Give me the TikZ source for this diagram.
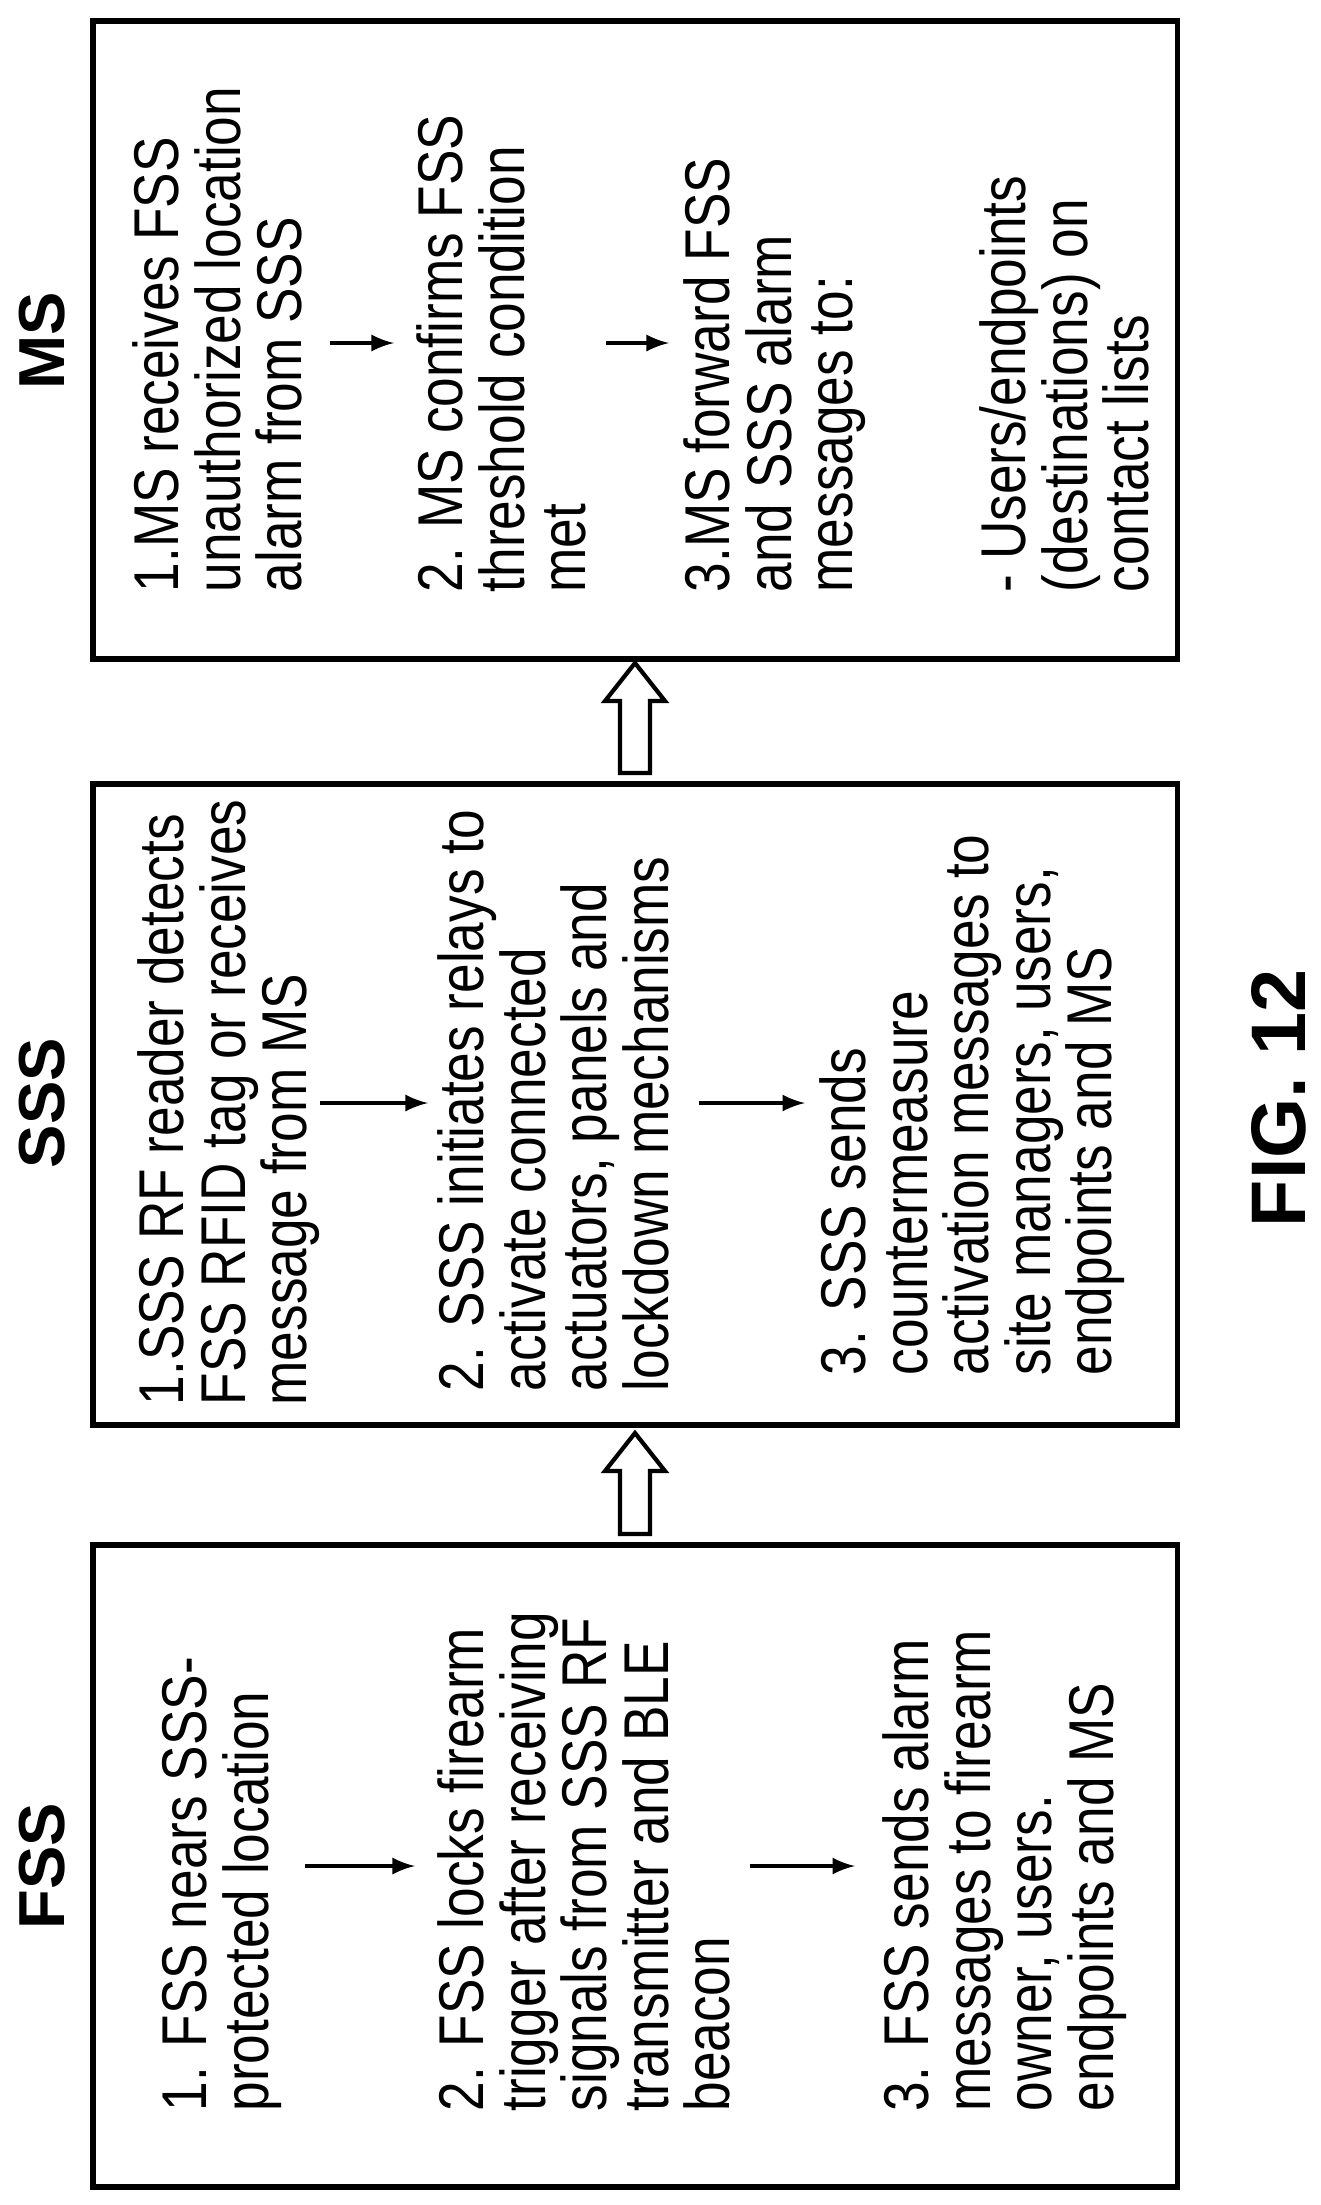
\documentclass[tikz,border=0pt]{standalone}
\usepackage{fontspec}
\setmainfont{Liberation Sans}
\newfontfamily\stepfont[FakeStretch=0.84]{Liberation Sans}
\usepackage{tikz}
\usetikzlibrary{positioning, calc}
\tikzstyle{panel}=[draw, line width=1.6pt, minimum width=10.84cm, inner sep=0pt]
\tikzstyle{stepText}=[rotate=90, anchor=north west, align=left, inner sep=0pt, font=\stepfont\fontsize{18}{17.5}\selectfont]
\tikzstyle{heading}=[rotate=90, font=\bfseries\fontsize{18.5}{20}\selectfont]
\tikzstyle{flowArrow}=[-latex, line width=1.2pt]
\tikzstyle{bigArrow}=[draw, line width=1.2pt, fill=white]

\begin{document}
\begin{tikzpicture}[x=0.01cm, y=-0.01cm]
      \useasboundingbox (0,0) rectangle (1321,2205);

      \node[panel, minimum height=6.38cm] (msBox) at (635,340) {};
      \node[panel, minimum height=6.41cm] (sssBox) at (635,1104.5) {};
      \node[panel, minimum height=6.42cm] (fssBox) at (635,1866) {};

      \node[heading] (msHead) at (42,341) {MS};
      \node[heading] (sssHead) at (42,1103) {SSS};
      \node[heading] (fssHead) at (42,1866) {FSS};
      \node[rotate=90, font=\bfseries\fontsize{22}{24}\selectfont] (figLabel) at (1279,1098) {FIG. 12};

      % MS steps
      \node[stepText] (msOne) at (132,593) {1.MS receives FSS\\unauthorized location\\alarm from SSS};
      \node[stepText] (msTwo) at (416,593) {2. MS confirms FSS\\threshold condition\\met};
      \node[stepText] (msThree) at (683,593) {3.MS forward FSS\\and SSS alarm\\messages to:};
      \node[stepText] (msList) at (979,593) {- Users/endpoints\\(destinations) on\\contact lists};
      \coordinate (msA1) at (330,343);
      \coordinate (msA2) at (394,343);
      \coordinate (msB1) at (606,343);
      \coordinate (msB2) at (669,343);

      % SSS steps
      \node[stepText] (sssOne) at (137,1406) {1.SSS RF reader detects\\FSS RFID tag or receives\\message from MS};
      \node[stepText] (sssTwo) at (437,1392) {2. SSS initiates relays to\\activate connected\\actuators, panels and\\lockdown mechanisms};
      \node[stepText] (sssThree) at (819,1376) {3. SSS sends\\countermeasure\\activation messages to\\site managers, users,\\endpoints and MS};
      \coordinate (sssA1) at (320,1103);
      \coordinate (sssA2) at (428,1103);
      \coordinate (sssB1) at (699,1103);
      \coordinate (sssB2) at (805,1103);

      % FSS steps
      \node[stepText] (fssOne) at (162,2112) {1. FSS nears SSS-\\protected location};
      \node[stepText] (fssTwo) at (437,2112) {2. FSS locks firearm\\trigger after receiving\\signals from SSS RF\\transmitter and BLE\\beacon};
      \node[stepText] (fssThree) at (882,2112) {3. FSS sends alarm\\messages to firearm\\owner, users.\\endpoints and MS};
      \coordinate (fssA1) at (305,1866);
      \coordinate (fssA2) at (415,1866);
      \coordinate (fssB1) at (750,1866);
      \coordinate (fssB2) at (855,1866);

      \foreach \c in {ms, sss, fss}{
        \draw[flowArrow] (\c A1) -- (\c A2);
        \draw[flowArrow] (\c B1) -- (\c B2);
      }

      % hollow arrows between the panels
      \foreach \tip/\base in {663/773, 1433/1534}{
        \draw[bigArrow] (620,\base) -- (620,\tip+38) -- (605,\tip+38) -- (635,\tip)
        -- (665,\tip+38) -- (650,\tip+38) -- (650,\base) -- cycle;
      }
\end{tikzpicture}
\end{document}
